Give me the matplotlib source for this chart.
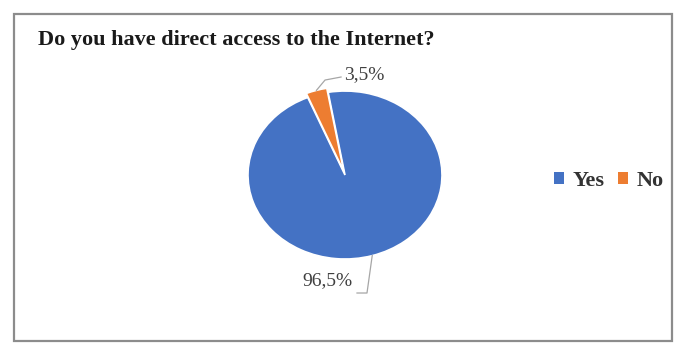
import numpy as np
import matplotlib.pyplot as plt
from matplotlib.patches import Rectangle

# data
labels = ["Yes", "No"]
values = [96.5, 3.5]
pct_labels = ["96,5%", "3,5%"]
colors = ["#4472C4", "#ED7D31"]
explode = [0, 0.05]
title = "Do you have direct access to the Internet?"

plt.rcParams['font.family'] = ['Liberation Serif', 'DejaVu Serif']

fig = plt.figure(figsize=(6.8, 3.43), dpi=100)

# pie axes, stretched a little (elliptical pie like the original)
ax = fig.add_axes([0.3219, 0.1714, 0.3709, 0.6367])
wedges, _ = ax.pie(values, colors=colors, startangle=100, counterclock=False,
                   explode=explode, radius=1,
                   wedgeprops=dict(edgecolor="white", linewidth=1.2))
ax.set_aspect('auto')
ax.set_xlim(-1.3, 1.3)
ax.set_ylim(-1.3, 1.3)

# data labels with leader lines (relative to wedge edge point)
leader = {
    "96,5%": dict(pts=[(0, 0), (-0.054, -0.445), (-0.157, -0.445)],
                  txt=(-0.2, -0.30), ha="right"),
    "3,5%": dict(pts=[(0, 0), (0.089, 0.123), (0.254, 0.159)],
                 txt=(0.285, 0.182), ha="left"),
}
for w, lab, ex in zip(wedges, pct_labels, explode):
    ang = np.deg2rad((w.theta1 + w.theta2) / 2)
    x0 = (1 + ex) * np.cos(ang)
    y0 = (1 + ex) * np.sin(ang)
    d = leader[lab]
    xs = [x0 + p[0] for p in d["pts"]]
    ys = [y0 + p[1] for p in d["pts"]]
    ax.plot(xs, ys, color="#A6A6A6", lw=0.9, clip_on=False)
    ax.text(x0 + d["txt"][0], y0 + d["txt"][1], lab, ha=d["ha"], va="center",
            fontsize=14, color="#404040")

# title
fig.text(38 / 680, 1 - 40 / 343, title, ha="left", va="center",
         fontsize=16, fontweight="bold", color="#1a1a1a")

# legend
leg = fig.legend(wedges, labels, loc="center left",
                 bbox_to_anchor=(554 / 680, 1 - 181 / 343), ncol=2,
                 frameon=False, prop=dict(size=16, weight="bold"),
                 handlelength=0.45, handleheight=0.45, borderpad=0,
                 borderaxespad=0, handletextpad=0.4, columnspacing=0.6)
for h in leg.legend_handles:
    h.set_edgecolor("none")
for t in leg.get_texts():
    t.set_color("#333333")

# outer border
fig.patches.append(Rectangle((14 / 680, 2 / 343), 658 / 680, 327 / 343,
                             transform=fig.transFigure, fill=False,
                             edgecolor="#8c8c8c", linewidth=1.6, zorder=10))

plt.savefig("out.png", dpi=100)
